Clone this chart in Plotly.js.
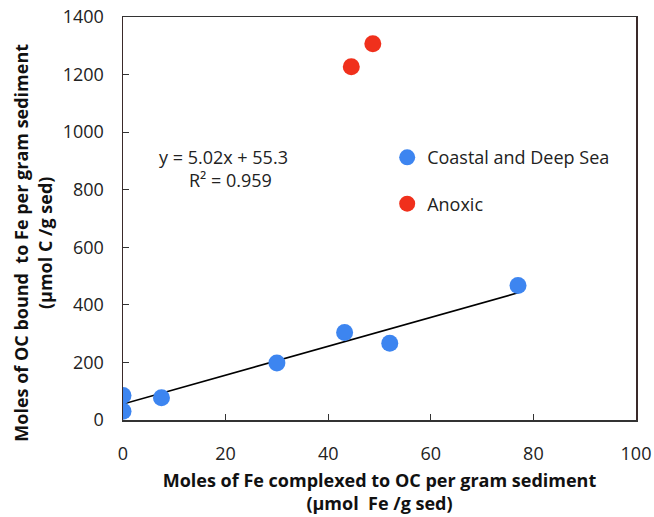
<!DOCTYPE html>
<html>
<head>
<meta charset="utf-8">
<script src="https://cdn.plot.ly/plotly-3.0.1.min.js"></script>
<style>html,body{margin:0;padding:0;background:#fff;}#chart{width:654px;height:517px;}</style>
</head>
<body>
<div id="chart"></div>
<script>
// Data
const coastalX = [0, 0, 7.5, 30, 43.2, 52, 77];
const coastalY = [85, 30, 77, 198, 304, 267, 467];
const anoxicX = [44.5, 48.7];
const anoxicY = [1227, 1307];
const fitSlope = 5.02;
const fitIntercept = 55.3;
const fitR2 = 0.959;
const seriesNames = ["Coastal and Deep Sea", "Anoxic"];
const xTicks = [0, 20, 40, 60, 80, 100];
const yTicks = [0, 200, 400, 600, 800, 1000, 1200, 1400];
const xTitle = 'Moles of Fe complexed to OC per gram sediment<br>(µmol  Fe /g sed)';
const yTitle = 'Moles of OC bound  to Fe per gram sediment<br>(µmol C /g sed)';

const fitX = [Math.min(...coastalX), Math.max(...coastalX)];
const fitY = fitX.map(x => fitSlope * x + fitIntercept);

const FONT = "Open Sans, Noto Sans, sans-serif";

const traces = [
  {x: fitX, y: fitY, mode: 'lines', line: {color: '#000', width: 1.6}, showlegend: false, hoverinfo: 'skip'},
  {x: coastalX, y: coastalY, mode: 'markers', name: seriesNames[0], legendgroup: 'a',
   marker: {color: '#3d85f0', size: 17}},
  {x: anoxicX, y: anoxicY, mode: 'markers', name: seriesNames[1], legendgroup: 'b',
   marker: {color: '#f0301c', size: 17}}
];

const layout = {
  width: 654, height: 517,
  margin: {l: 123, r: 18, t: 17, b: 97},
  paper_bgcolor: '#fff', plot_bgcolor: '#fff',
  font: {family: FONT, size: 18, color: '#222'},
  showlegend: true,
  legend: {x: 0.515, y: 0.697, xanchor: 'left', yanchor: 'top', traceorder: 'grouped', tracegroupgap: 20,
           font: {family: FONT, size: 18, color: '#222'}, itemsizing: 'trace', bgcolor: 'rgba(0,0,0,0)'},
  xaxis: {
    range: [0, 100], tickvals: xTicks, ticktext: xTicks.map(String),
    ticks: 'inside', ticklen: 6, tickcolor: '#333', showline: true, linecolor: '#333', linewidth: 1.5,
    mirror: true, showgrid: false, zeroline: false, ticklabelstandoff: 17,
    tickfont: {family: FONT, size: 18, color: '#222'},
    title: {text: '<b>' + xTitle + '</b>', standoff: 10,
            font: {family: FONT, size: 18, color: '#111'}}
  },
  yaxis: {
    range: [0, 1400], tickvals: yTicks, ticktext: yTicks.map(String),
    ticks: 'inside', ticklen: 6, tickcolor: '#333', showline: true, linecolor: '#3a2a2a', linewidth: 1.5,
    mirror: true, showgrid: false, zeroline: false, ticklabelstandoff: 14,
    tickfont: {family: FONT, size: 18, color: '#222'}
  },
  annotations: [
    {x: 19.6, y: 915, xref: 'x', yref: 'y', text: 'y = ' + fitSlope.toFixed(2) + 'x + ' + fitIntercept.toFixed(1),
     showarrow: false, font: {family: FONT, size: 18, color: '#222'}},
    {x: 21, y: 835, xref: 'x', yref: 'y', text: 'R² = ' + fitR2.toFixed(3),
     showarrow: false, font: {family: FONT, size: 18, color: '#222'}},
    {x: -0.1754, y: 0.44, xref: 'paper', yref: 'paper', xanchor: 'center', yanchor: 'middle',
     text: '<b>' + yTitle + '</b>', textangle: -90, showarrow: false,
     font: {family: FONT, size: 18, color: '#111'}}
  ]
};

Plotly.newPlot('chart', traces, layout, {displayModeBar: false, staticPlot: true});
</script>
</body>
</html>
